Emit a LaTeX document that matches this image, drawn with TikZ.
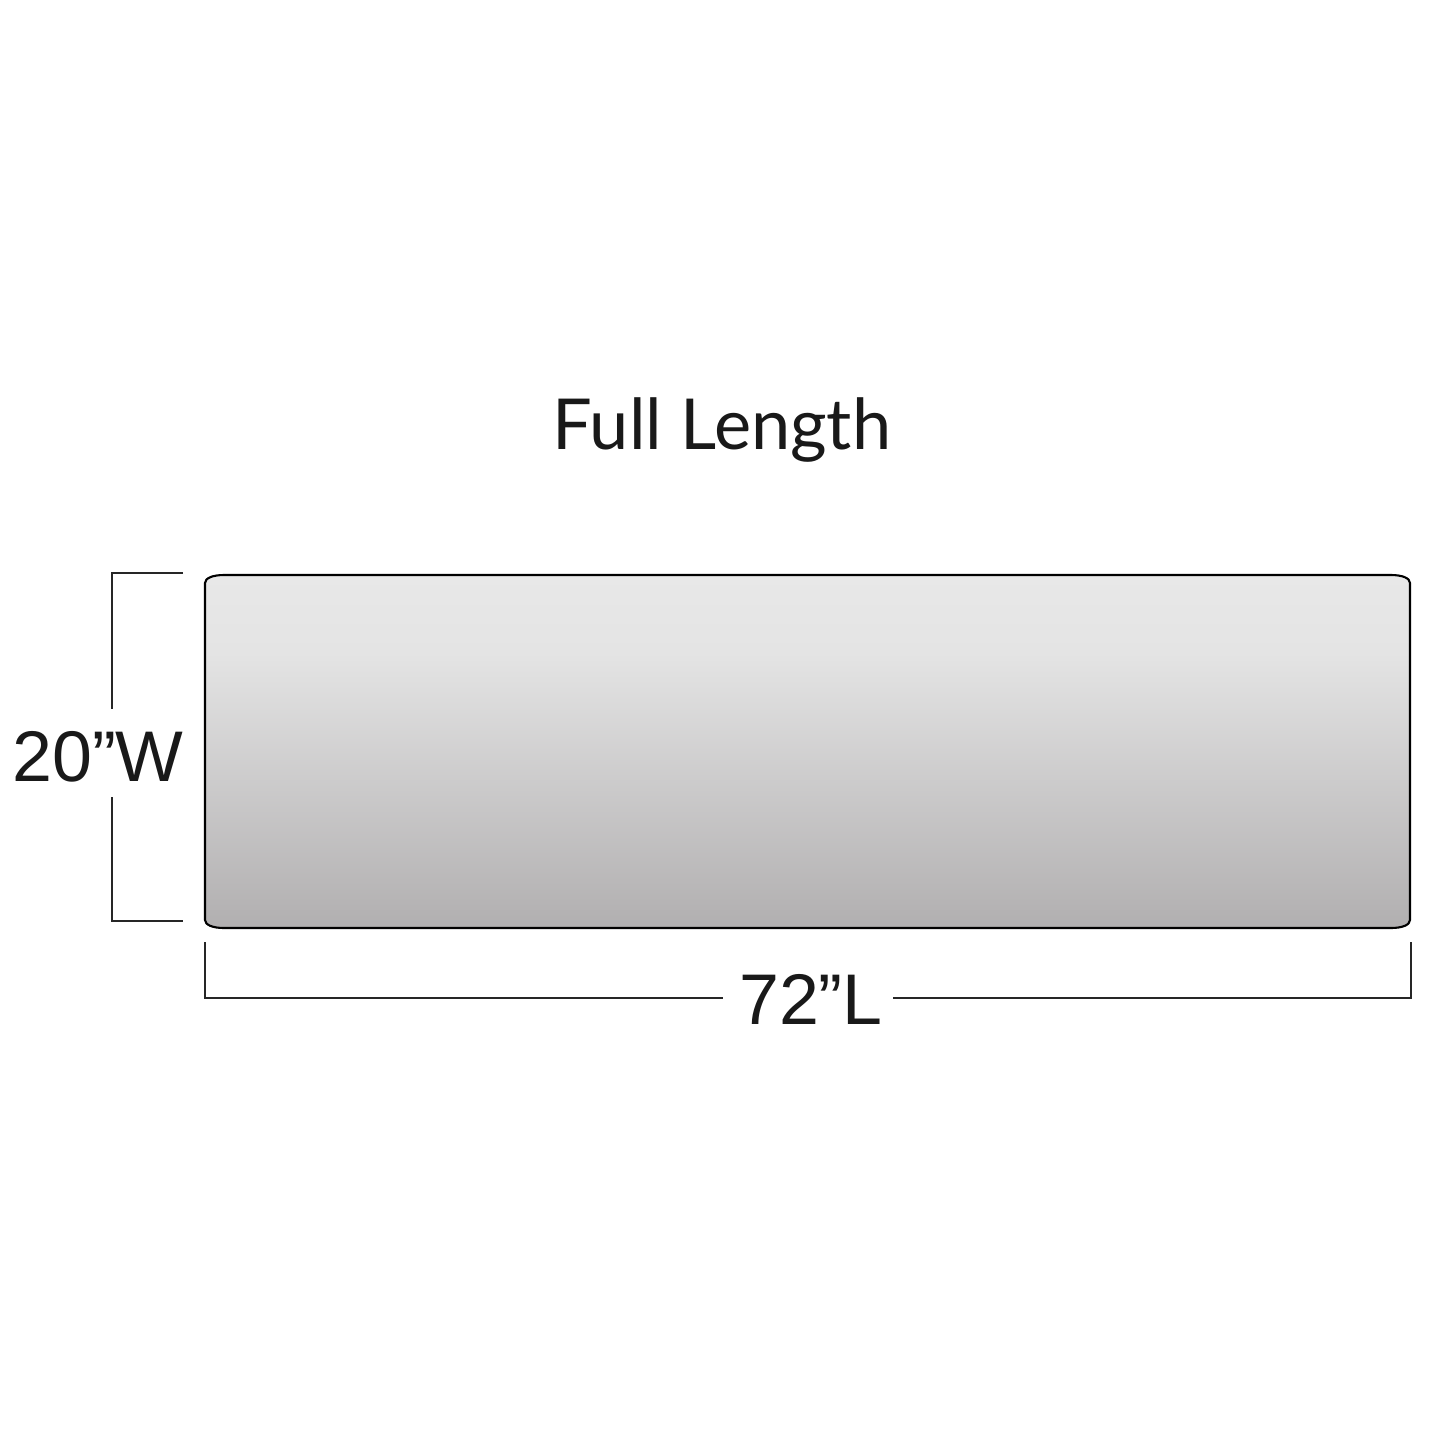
\documentclass[tikz,border=0pt]{standalone}
\usepackage{fontspec}
\setmainfont{Lato}
\newfontfamily\dimfont{Liberation Sans}
\usetikzlibrary{positioning,calc}
\definecolor{mattop}{HTML}{E8E8E8}
\definecolor{matmid}{HTML}{E4E4E4}
\definecolor{matbot}{HTML}{B1AFB0}
\pgfdeclareverticalshading{mattress}{100bp}{color(0bp)=(matbot); color(25bp)=(matbot); color(64bp)=(matmid); color(75bp)=(mattop); color(100bp)=(mattop)}

\begin{document}
\begin{tikzpicture}[x=0.01cm,y=-0.01cm,
  dimline/.style={line width=0.6pt,black!85},
  dimlabel/.style={font=\dimfont\fontsize{20.4}{24}\selectfont,text=black!90,inner sep=0pt},
  titlelabel/.style={font=\fontsize{20}{24}\selectfont,text=black!90,inner sep=0pt}]
\useasboundingbox (0,0) rectangle (1445,1445);

% Define the corners of the pad
\coordinate (TL) at (205,575);
\coordinate (TR) at (1410,575);
\coordinate (BR) at (1410,928);
\coordinate (BL) at (205,928);

% Draw the pad
\draw[line width=0.6pt,shading=mattress]
  ($(TL)+(19,0)$) -- ($(TR)+(-19,0)$)
  .. controls ($(TR)+(-8,0)$) and ($(TR)+(0,3)$) .. ($(TR)+(0,8)$)
  -- ($(BR)+(0,-8)$)
  .. controls ($(BR)+(0,-3)$) and ($(BR)+(-8,0)$) .. ($(BR)+(-19,0)$)
  -- ($(BL)+(19,0)$)
  .. controls ($(BL)+(8,0)$) and ($(BL)+(0,-3)$) .. ($(BL)+(0,-8)$)
  -- ($(TL)+(0,8)$)
  .. controls ($(TL)+(0,3)$) and ($(TL)+(8,0)$) .. ($(TL)+(19,0)$) -- cycle;

% Title
\node[titlelabel] (title) at (722,430) {Full Length};

% Width dimension
\coordinate (W1) at (112,573);
\coordinate (W2) at (112,921);
\node[dimlabel] (wlabel) at (98,757) {20”W};
\draw[dimline] (183,573) -- (W1) -- (112,709);
\draw[dimline] (112,797) -- (W2) -- (183,921);

% Length dimension
\coordinate (L1) at (205,998);
\coordinate (L2) at (1411,998);
\node[dimlabel] (llabel) at (811,999) {72”L};
\draw[dimline] (205,942) -- (L1) -- (723,998);
\draw[dimline] (893,998) -- (L2) -- (1411,942);
\end{tikzpicture}
\end{document}
